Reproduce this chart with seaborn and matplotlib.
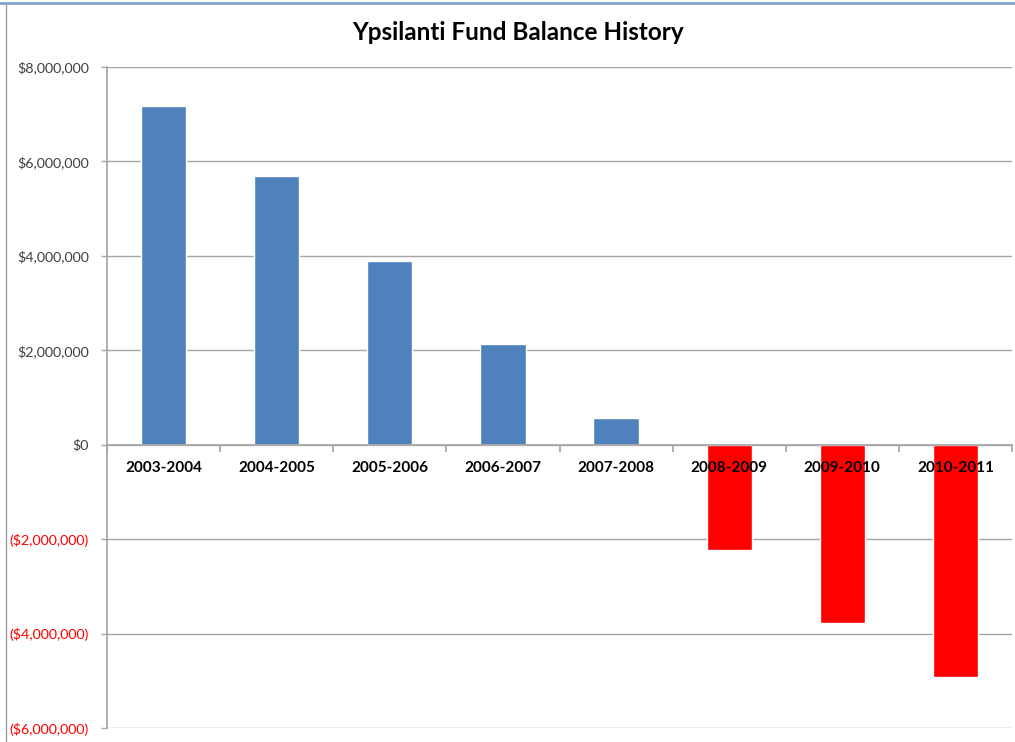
import matplotlib
matplotlib.use("Agg")
import matplotlib.pyplot as plt
from matplotlib.lines import Line2D
import seaborn as sns
import pandas as pd

categories = ["2003-2004", "2004-2005", "2005-2006", "2006-2007",
              "2007-2008", "2008-2009", "2009-2010", "2010-2011"]
balances = [7180000, 5690000, 3900000, 2130000, 570000,
            -2230000, -3780000, -4920000]
y_ticks = [8000000, 6000000, 4000000, 2000000, 0, -2000000, -4000000, -6000000]
title = "Ypsilanti Fund Balance History"

BLUE = "#4F81BD"
RED = "#FF0000"
GRID = "#A6A6A6"

sns.set_theme(style="white")
plt.rcParams["font.family"] = ["Lato", "DejaVu Sans"]

df = pd.DataFrame({"period": categories, "balance": balances})
df["sign"] = ["pos" if v >= 0 else "neg" for v in balances]

fig = plt.figure(figsize=(10.15, 7.42), dpi=100)
ax = fig.add_axes([107 / 1015, 1 - 728 / 742, (1012 - 107) / 1015, (728 - 67) / 742])

sns.barplot(data=df, x="period", y="balance", hue="sign",
            palette={"pos": BLUE, "neg": RED}, width=0.4, dodge=False,
            legend=False, ax=ax, saturation=1)

ax.set_xlim(-0.5, len(categories) - 0.5)
ax.set_ylim(min(y_ticks), max(y_ticks))
ax.set_yticks(y_ticks)


def fmt(v):
    if v < 0:
        return "(${:,.0f})".format(-v)
    return "${:,.0f}".format(v)


ax.set_yticklabels([fmt(v) for v in y_ticks], fontsize=10.3)
for lab, v in zip(ax.get_yticklabels(), y_ticks):
    lab.set_color(RED if v < 0 else "#404040")
ax.tick_params(axis="y", length=4, color=GRID, width=1, pad=9, left=True)

ax.set_axisbelow(True)
ax.yaxis.grid(True, color=GRID, linewidth=1)
ax.xaxis.grid(False)

# x axis at zero with boundary ticks and centered labels
ax.spines["bottom"].set_position(("data", 0))
ax.spines["bottom"].set_color(GRID)
ax.spines["left"].set_color(GRID)
ax.spines["top"].set_visible(False)
ax.spines["right"].set_visible(False)
n = len(categories)
ax.set_xticks([i - 0.5 for i in range(n + 1)])
ax.set_xticklabels([""] * (n + 1))
ax.set_xticks(list(range(n)), minor=True)
ax.set_xticklabels(categories, minor=True, fontsize=11, fontweight="bold",
                   color="black")
ax.tick_params(axis="x", which="major", length=5, color=GRID, direction="out",
               bottom=True)
ax.tick_params(axis="x", which="minor", length=0, pad=12, bottom=True)
ax.xaxis.set_zorder(3)
ax.set_xlabel("")
ax.set_ylabel("")

fig.text(518 / 1015, 1 - 33 / 742, title, ha="center", va="center",
         fontsize=17.5, fontweight="bold", color="black")

# chart frame decorations
fig.add_artist(Line2D([0, 1], [1 - 3 / 742, 1 - 3 / 742], color="#7FA3C8",
                      linewidth=2, transform=fig.transFigure))
fig.add_artist(Line2D([6 / 1015, 6 / 1015], [0, 1 - 4 / 742], color="#A0A0A0",
                      linewidth=1, transform=fig.transFigure))

fig.savefig("out.png", dpi=100)
